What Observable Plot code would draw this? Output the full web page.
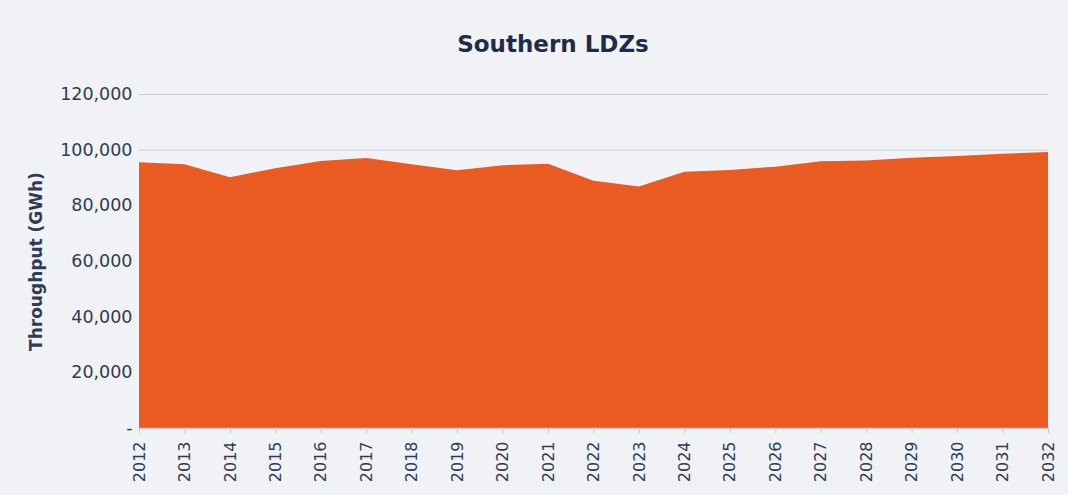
<!DOCTYPE html>
<html>
<head>
<meta charset="utf-8">
<script src="https://cdn.jsdelivr.net/npm/d3@7"></script>
<script src="https://cdn.jsdelivr.net/npm/@observablehq/plot@0.6"></script>
<style>
  html, body { margin: 0; padding: 0; background: #f0f2f6; }
  #wrap { width: 1068px; height: 495px; position: relative; background: #f0f2f6; }
  #title { height: 70px; box-sizing: border-box; padding-top: 33px; text-align: center; padding-left: 38px;
           font-family: "DejaVu Sans", sans-serif; font-size: 23px; font-weight: bold; color: #1e2b4a; line-height: 1; }
</style>
</head>
<body>
<div id="wrap">
  <div id="title">Southern LDZs</div>
  <div id="chart"></div>
</div>
<script>
const years = [2012,2013,2014,2015,2016,2017,2018,2019,2020,2021,2022,2023,2024,2025,2026,2027,2028,2029,2030,2031,2032];
const throughput = [95500,94800,90100,93300,95900,97000,94800,92600,94400,94900,88800,86800,92100,92700,93900,95800,96100,97100,97700,98500,99200];
const yTicks = [0,20000,40000,60000,80000,100000,120000];

const data = years.map((y, i) => ({year: y, value: throughput[i]}));

const chart = Plot.plot({
  width: 1068,
  height: 425,
  marginLeft: 139,
  marginRight: 20,
  marginTop: 24,
  marginBottom: 67,
  style: {background: "#f0f2f6", fontFamily: "DejaVu Sans, sans-serif", color: "#2f3b55"},
  x: {domain: [2012, 2032]},
  y: {domain: [0, 120000]},
  marks: [
    Plot.ruleY(yTicks, {stroke: "#cdd0d6", strokeWidth: 1}),
    Plot.areaY(data, {x: "year", y: "value", fill: "#e95b21"}),
    Plot.ruleY([0], {stroke: "#c8cbd1", strokeWidth: 1.5}),
    Plot.axisX({ticks: years, tickFormat: d => String(d), tickRotate: -90, tickSize: 5, tickPadding: 8,
                stroke: "#c8cbd1", fontSize: 16, label: null}),
    Plot.axisY({ticks: yTicks, tickSize: 0, tickPadding: 7, fontSize: 17.5,
                tickFormat: d => d === 0 ? "-" : d3.format(",")(d),
                label: "Throughput (GWh)", labelAnchor: "center", labelArrow: "none", labelOffset: 110})
  ]
});
chart.querySelectorAll("g[aria-label='y-axis label'] text").forEach(t => {
  t.setAttribute("font-weight", "bold");
  t.setAttribute("font-size", "17");
});
document.getElementById("chart").appendChild(chart);
</script>
</body>
</html>
